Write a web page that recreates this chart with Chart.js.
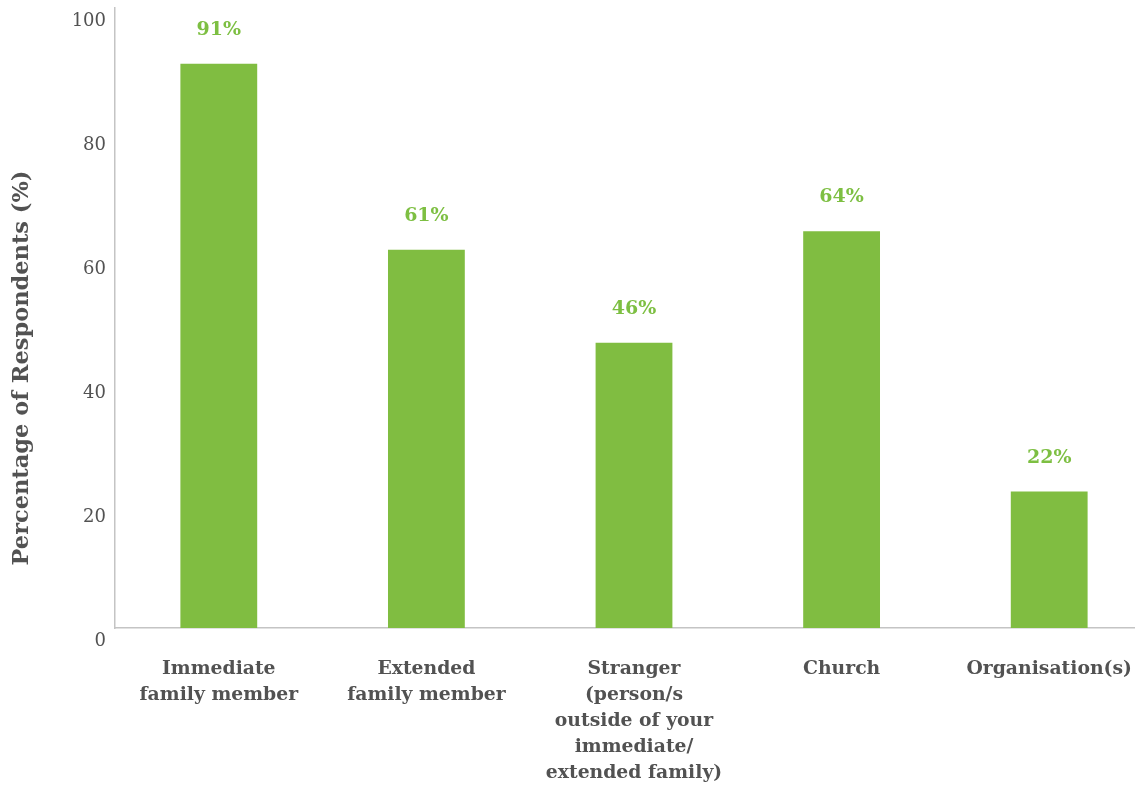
<!DOCTYPE html>
<html>
<head>
<meta charset="utf-8">
<title>Percentage of Respondents</title>
<script src="https://cdn.jsdelivr.net/npm/chart.js@4"></script>
<style>
  html, body { margin: 0; padding: 0; background: #ffffff; overflow: hidden; }
  #wrap { width: 1153px; height: 787px; }
</style>
</head>
<body>
<div id="wrap"><canvas id="chart" width="1153" height="787"></canvas></div>
<script>
// Categories (multi-line axis labels)
const categories = [
  ["Immediate", "family member"],
  ["Extended", "family member"],
  ["Stranger", "(person/s", "outside of your", "immediate/", "extended family)"],
  ["Church"],
  ["Organisation(s)"]
];
// Share of respondents, in percent
const respondents = [91, 61, 46, 64, 22];
// Y axis range and step
const yTicks = { min: 0, max: 100, step: 20 };
const yTitle = "Percentage of Respondents (%)";

const GREEN = "#80bd41";
const LABEL_GREEN = "#7dbf42";
const TEXT = "#525252";
const AXIS = "#c4c4c4";
const FONT = "'DejaVu Serif', 'Liberation Serif', serif";

// Percentage labels above each bar
const valueLabels = {
  id: "valueLabels",
  afterDatasetsDraw(chart) {
    const ctx = chart.ctx;
    const meta = chart.getDatasetMeta(0);
    ctx.save();
    ctx.fillStyle = LABEL_GREEN;
    ctx.font = "bold 19px " + FONT;
    ctx.textAlign = "center";
    ctx.textBaseline = "middle";
    meta.data.forEach((bar, i) => {
      ctx.fillText(respondents[i] + "%", bar.x, bar.y - 34);
    });
    ctx.restore();
  }
};

// Rotated y-axis title, set a little below the middle of the axis
const yAxisTitle = {
  id: "yAxisTitle",
  afterDraw(chart) {
    const ctx = chart.ctx;
    const area = chart.chartArea;
    ctx.save();
    ctx.translate(22, (area.top + area.bottom) / 2 + 50);
    ctx.rotate(-Math.PI / 2);
    ctx.fillStyle = TEXT;
    ctx.font = "bold 22.5px " + FONT;
    ctx.textAlign = "center";
    ctx.textBaseline = "middle";
    ctx.fillText(yTitle, 0, 0);
    ctx.restore();
  }
};

new Chart(document.getElementById("chart"), {
  type: "bar",
  data: {
    labels: categories,
    datasets: [{
      data: respondents,
      backgroundColor: GREEN,
      borderWidth: 0,
      categoryPercentage: 1.0,
      barPercentage: 0.37
    }]
  },
  options: {
    responsive: false,
    animation: false,
    layout: { padding: { top: 8, right: 0, bottom: 0, left: 0 } },
    plugins: {
      legend: { display: false },
      tooltip: { enabled: false }
    },
    scales: {
      x: {
        grid: { display: false, drawTicks: false, tickLength: 0 },
        border: { display: true, color: AXIS, width: 1.5 },
        ticks: {
          color: TEXT,
          padding: 28,
          maxRotation: 0,
          autoSkip: false,
          font: { family: FONT, size: 18.8, weight: "bold", lineHeight: 1.38 }
        },
        afterFit(scale) {
          scale.height = 159;
          scale.paddingLeft = 0;
          scale.paddingRight = 0;
        }
      },
      y: {
        min: yTicks.min,
        max: yTicks.max,
        grid: { display: false, drawTicks: false, tickLength: 0 },
        border: { display: true, color: AXIS, width: 1.5 },
        ticks: {
          stepSize: yTicks.step,
          color: TEXT,
          padding: 9,
          labelOffset: 13,
          font: { family: FONT, size: 18 }
        },
        afterFit(scale) {
          scale.width = 115;
          scale.paddingTop = 0;
          scale.paddingBottom = 0;
        }
      }
    }
  },
  plugins: [valueLabels, yAxisTitle]
});
</script>
</body>
</html>
